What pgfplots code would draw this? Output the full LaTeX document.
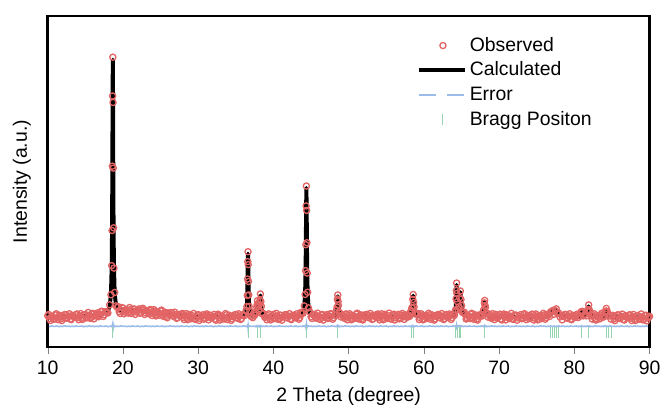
\documentclass[border=0pt]{standalone}
\usepackage{pgfplots}
\usepackage{pgfplotstable}
\pgfplotsset{compat=1.18}
\usepackage{fontspec}
\setmainfont{Liberation Sans}
\definecolor{obsred}{RGB}{226,100,100}
\definecolor{errblue}{RGB}{155,188,232}
\definecolor{bragggreen}{RGB}{150,212,175}
\newcommand{\fs}{\fontsize{9.75}{11.7}\selectfont}
\pgfplotsset{
  markleg/.style={legend image code/.code={\draw[##1] plot coordinates {(12pt,0pt)};}},
  lineleg/.style={legend image code/.code={\draw[##1] (0pt,0pt) -- (23pt,0pt);}},
  dashleg/.style={legend image code/.code={\draw[##1, dash pattern=on 8.5pt off 5.5pt] (0pt,0pt) -- (23pt,0pt);}},
}

\pgfplotstableread{
x obs calc err
10.00 31.6 30.0 21.2
10.25 28.8 30.0 20.7
10.50 30.5 30.1 21.4
10.75 28.1 30.1 20.9
11.00 32.4 30.2 21.0
11.25 29.6 30.2 21.3
11.50 31.2 30.2 20.6
11.75 28.5 30.3 21.1
12.00 30.5 30.3 20.8
12.25 32.8 30.4 21.5
12.50 29.0 30.4 20.9
12.75 31.3 30.5 21.2
13.00 28.3 30.6 20.7
13.25 32.0 30.6 21.2
13.50 30.4 30.7 20.7
13.75 32.6 30.7 21.4
14.00 29.8 30.8 20.9
14.25 31.5 30.9 21.0
14.50 29.0 31.1 21.3
14.75 32.4 31.2 20.6
15.00 32.9 31.3 21.1
15.25 30.2 31.4 20.8
15.50 32.0 31.6 21.5
15.75 29.7 31.7 20.9
16.00 34.0 31.8 21.2
16.25 31.4 32.0 20.7
16.50 33.2 32.2 21.2
16.75 30.6 32.4 20.7
17.00 32.8 32.6 21.4
17.25 35.9 33.5 20.9
17.50 32.7 34.1 21.0
17.75 35.8 35.0 21.3
18.00 34.4 36.7 20.6
18.23 42.6 41.2 21.1
18.40 52.7 53.0 20.8
18.50 82.0 80.1 21.5
18.55 117.3 118.3 21.5
18.59 182.0 181.4 22.0
18.62 252.5 249.7 23.0
18.65 291.5 289.0 18.5
18.68 246.0 249.8 24.0
18.71 180.0 181.5 20.0
18.75 120.0 118.6 21.8
18.80 79.5 80.4 20.6
18.90 55.0 53.5 21.3
19.07 41.5 42.4 20.8
19.25 40.0 39.0 21.1
19.50 35.7 37.5 20.8
19.75 37.2 37.0 21.5
20.00 39.3 36.9 20.9
20.25 35.4 36.8 21.2
20.50 37.5 36.7 20.7
20.75 34.3 36.6 21.2
21.00 37.9 36.5 20.7
21.25 36.2 36.5 21.4
21.50 38.4 36.5 20.9
21.75 35.4 36.4 21.0
22.00 37.0 36.4 21.3
22.25 34.1 36.2 20.6
22.50 37.3 36.1 21.1
22.75 37.5 35.9 20.8
23.00 34.6 35.8 21.5
23.25 36.0 35.6 20.9
23.50 33.4 35.4 21.2
23.75 37.4 35.2 20.7
24.00 34.4 35.0 21.2
24.25 35.8 34.8 20.7
24.50 32.7 34.5 21.4
24.75 34.5 34.3 20.9
25.00 36.4 34.0 21.0
25.25 32.4 33.8 21.3
25.50 34.3 33.5 20.6
25.75 31.0 33.3 21.1
26.00 34.4 33.0 20.8
26.25 32.5 32.8 21.5
26.50 34.4 32.5 20.9
26.75 31.3 32.3 21.2
27.00 32.6 32.0 20.7
27.25 29.7 31.8 21.2
27.50 32.8 31.6 20.7
27.75 33.0 31.4 21.4
28.00 30.0 31.2 20.9
28.25 31.5 31.1 21.0
28.50 28.9 30.9 21.3
28.75 33.0 30.8 20.6
29.00 30.0 30.6 21.1
29.25 31.6 30.6 20.8
29.50 28.7 30.5 21.5
29.75 30.7 30.5 20.9
30.00 32.8 30.4 21.2
30.25 29.0 30.4 20.7
30.50 31.2 30.4 21.2
30.75 28.1 30.4 20.7
31.00 31.8 30.4 21.4
31.25 30.1 30.4 20.9
31.50 32.3 30.4 21.0
31.75 29.4 30.4 21.3
32.00 31.0 30.4 20.6
32.25 28.3 30.4 21.1
32.50 31.6 30.4 20.8
32.75 32.0 30.4 21.5
33.00 29.2 30.4 20.9
33.25 30.8 30.4 21.2
33.50 28.4 30.4 20.7
33.75 32.6 30.4 21.2
34.00 29.8 30.4 20.7
34.25 31.4 30.4 21.4
34.50 28.6 30.4 20.9
34.75 30.6 30.4 21.0
35.00 32.9 30.5 21.3
35.25 29.1 30.5 20.6
35.50 31.3 30.5 21.1
35.75 28.7 31.0 20.8
36.00 32.7 31.3 21.5
36.20 31.9 32.2 20.9
36.37 37.0 35.1 21.2
36.47 40.9 41.9 20.7
36.52 52.0 51.4 21.5
36.56 68.5 67.1 21.8
36.59 86.0 84.2 22.3
36.62 96.0 94.0 20.0
36.65 83.0 84.2 22.0
36.68 66.0 67.1 20.6
36.72 52.5 51.4 21.4
36.77 41.0 41.9 20.8
36.87 36.5 35.1 21.3
37.04 30.8 32.2 20.9
37.25 29.7 31.5 20.9
37.50 32.0 31.8 21.2
37.60 35.0 33.1 20.7
37.70 34.2 35.4 21.2
37.78 40.5 39.1 20.7
37.84 43.0 43.9 21.4
37.88 46.8 45.5 20.9
37.93 42.5 43.6 21.0
38.00 41.0 39.6 21.3
38.08 37.5 38.7 20.6
38.15 43.0 41.8 21.1
38.21 47.0 47.7 20.8
38.27 53.5 52.0 21.5
38.33 46.0 47.1 20.9
38.40 41.0 39.7 21.2
38.50 33.5 34.7 20.7
38.65 34.0 32.4 21.2
38.85 30.0 31.2 20.7
39.00 30.4 31.0 21.4
39.25 31.8 30.8 20.9
39.50 28.8 30.6 21.0
39.75 30.8 30.6 21.3
40.00 33.0 30.6 20.6
40.25 29.2 30.6 21.1
40.50 31.4 30.6 20.8
40.75 28.3 30.6 21.5
41.00 32.0 30.6 20.9
41.25 30.3 30.6 21.2
41.50 32.5 30.6 20.7
41.75 29.6 30.6 21.2
42.00 31.2 30.6 20.7
42.25 28.5 30.6 21.4
42.50 31.8 30.6 20.9
42.75 32.2 30.6 21.0
43.00 29.4 30.6 21.3
43.25 31.6 31.2 20.6
43.50 29.7 31.7 21.1
43.75 34.8 32.6 20.8
43.93 34.0 34.6 21.5
44.10 41.5 40.4 20.9
44.21 53.0 54.0 21.3
44.27 77.0 75.4 21.9
44.31 103.0 103.9 20.4
44.345 142.0 139.3 22.8
44.38 162.0 160.1 19.6
44.415 137.5 139.3 22.5
44.45 105.0 103.9 20.3
44.49 74.5 75.4 21.6
44.55 55.2 54.0 20.8
44.66 39.5 40.4 21.3
44.83 35.5 34.6 20.9
45.00 30.6 32.7 21.2
45.25 32.9 31.7 20.7
45.50 32.9 31.3 21.2
45.75 29.8 31.0 20.7
46.00 31.1 30.7 21.4
46.25 28.7 30.7 20.9
46.50 32.9 30.7 21.0
46.75 30.1 30.7 21.3
47.00 31.7 30.7 20.6
47.25 28.9 30.7 21.1
47.50 30.9 30.7 20.8
47.75 33.1 30.7 21.5
48.00 29.8 31.2 20.9
48.15 32.5 31.7 21.2
48.30 31.8 33.1 20.7
48.40 37.5 36.1 21.2
48.46 40.2 41.0 20.7
48.505 48.4 47.1 21.4
48.55 52.5 51.2 20.6
48.595 46.0 47.1 21.5
48.64 42.0 41.0 21.0
48.70 35.2 36.1 21.3
48.80 34.5 33.1 20.6
49.00 30.3 31.5 21.1
49.25 31.4 31.0 20.8
49.50 28.8 30.8 21.5
49.75 33.0 30.8 20.9
50.00 30.2 30.8 21.2
50.25 31.8 30.8 20.7
50.50 29.0 30.8 21.2
50.75 31.0 30.8 20.7
51.00 33.2 30.8 21.4
51.25 29.4 30.8 20.9
51.50 31.6 30.8 21.0
51.75 28.5 30.8 21.3
52.00 32.2 30.8 20.6
52.25 30.5 30.8 21.1
52.50 32.7 30.8 20.8
52.75 29.8 30.8 21.5
53.00 31.4 30.8 20.9
53.25 28.7 30.8 21.2
53.50 32.0 30.8 20.7
53.75 32.4 30.8 21.2
54.00 29.6 30.8 20.7
54.25 31.2 30.8 21.4
54.50 28.8 30.8 20.9
54.75 33.0 30.8 21.0
55.00 30.2 30.8 21.3
55.25 31.8 30.8 20.6
55.50 29.0 30.8 21.1
55.75 31.0 30.8 20.8
56.00 33.2 30.8 21.5
56.25 29.4 30.8 20.9
56.50 31.6 30.8 21.2
56.75 28.5 30.8 20.7
57.00 32.2 30.8 21.2
57.25 30.5 30.8 20.7
57.50 32.7 30.8 21.4
57.75 29.9 30.9 20.9
58.00 32.2 31.6 21.0
58.10 31.0 32.2 21.3
58.25 36.0 34.8 20.6
58.33 36.8 37.5 21.1
58.40 39.5 38.2 20.8
58.46 39.8 40.6 21.5
58.52 48.0 46.7 20.9
58.58 53.0 51.8 21.4
58.64 45.0 46.2 20.7
58.70 40.5 39.4 21.2
58.80 33.5 34.4 20.7
58.95 33.5 32.1 21.4
59.25 33.6 31.2 20.9
59.50 29.5 30.9 21.0
59.75 31.6 30.8 21.3
60.00 28.4 30.7 20.6
60.25 32.1 30.7 21.1
60.50 30.4 30.7 20.8
60.75 32.6 30.7 21.5
61.00 29.7 30.7 20.9
61.25 31.3 30.7 21.2
61.50 28.6 30.7 20.7
61.75 31.9 30.7 21.2
62.00 32.3 30.7 20.7
62.25 29.5 30.7 21.4
62.50 31.1 30.7 20.9
62.75 28.7 30.7 21.0
63.00 32.9 30.7 21.3
63.25 30.1 30.7 20.6
63.50 31.9 30.9 21.1
63.75 29.7 31.5 20.8
63.90 32.5 31.9 21.5
64.05 32.0 33.0 20.9
64.15 36.0 34.9 21.2
64.22 37.6 38.5 20.7
64.28 48.5 47.1 21.6
64.32 57.0 57.7 20.5
64.35 64.5 62.5 22.0
64.39 54.0 55.3 20.3
64.44 45.8 44.5 21.5
64.52 38.0 38.7 20.8
64.60 40.0 38.6 21.3
64.68 40.8 41.7 20.7
64.76 49.8 48.5 21.4
64.85 56.5 55.3 20.6
64.93 48.0 49.2 21.5
65.02 41.8 40.7 20.9
65.12 35.0 36.0 21.2
65.25 34.6 33.4 20.7
65.50 32.8 31.8 21.2
65.75 29.4 31.2 20.7
66.00 31.1 30.9 21.4
66.25 33.1 30.7 20.9
66.50 29.3 30.7 21.0
66.75 31.5 30.7 21.3
67.00 28.4 30.7 20.6
67.25 32.2 30.8 21.1
67.50 30.8 31.1 20.8
67.63 33.0 31.5 21.5
67.80 31.6 32.6 20.9
67.91 36.5 35.1 21.2
67.98 38.0 38.9 20.7
68.03 44.5 43.2 21.4
68.08 47.0 45.8 20.6
68.13 42.0 43.2 21.5
68.18 40.0 38.9 21.0
68.25 34.2 35.1 21.3
68.36 34.0 32.6 20.6
68.53 30.2 31.5 21.1
68.75 32.0 31.0 20.8
69.00 28.9 30.7 21.5
69.25 30.8 30.6 20.9
69.50 33.0 30.6 21.2
69.75 29.2 30.6 20.7
70.00 31.4 30.6 21.2
70.25 28.3 30.6 20.7
70.50 32.0 30.6 21.4
70.75 30.3 30.6 20.9
71.00 32.5 30.6 21.0
71.25 29.6 30.6 21.3
71.50 31.2 30.6 20.6
71.75 28.5 30.6 21.1
72.00 31.8 30.6 20.8
72.25 32.2 30.6 21.5
72.50 29.4 30.6 20.9
72.75 31.0 30.6 21.2
73.00 28.6 30.6 20.7
73.25 32.8 30.6 21.2
73.50 29.9 30.5 20.7
73.75 31.5 30.5 21.4
74.00 28.7 30.5 20.9
74.25 30.7 30.5 21.0
74.50 32.9 30.5 21.3
74.75 29.1 30.5 20.6
75.00 31.3 30.5 21.1
75.25 28.2 30.5 20.8
75.50 31.9 30.5 21.5
75.75 30.2 30.5 20.9
76.00 32.4 30.5 21.2
76.25 29.9 30.9 20.7
76.50 32.1 31.5 21.2
76.70 30.8 32.5 20.7
76.85 35.6 34.4 21.4
77.00 35.5 36.7 20.9
77.15 37.0 35.1 21.0
77.30 33.0 34.2 21.3
77.45 36.8 35.6 20.6
77.60 38.6 37.6 21.1
77.75 33.8 35.1 20.8
77.90 34.5 32.8 21.5
78.10 30.4 31.6 20.9
78.50 31.0 30.8 21.2
78.75 33.0 30.6 20.7
79.00 29.1 30.5 21.2
79.25 31.3 30.5 20.7
79.50 28.2 30.5 21.4
79.75 31.9 30.5 20.9
80.00 30.1 30.4 21.0
80.25 32.4 30.5 21.3
80.50 29.8 30.8 20.6
80.60 31.7 31.1 21.1
80.80 31.2 32.4 20.8
80.92 35.8 34.6 21.5
81.00 34.5 35.7 20.9
81.08 36.0 34.7 21.2
81.20 31.5 32.7 20.7
81.40 33.2 31.9 21.2
81.60 31.5 32.8 20.7
81.72 36.2 34.9 21.4
81.82 37.8 38.8 20.9
81.90 42.5 41.0 21.0
81.98 37.5 38.7 21.3
82.08 36.0 34.8 20.6
82.20 31.4 32.5 21.1
82.50 31.8 31.0 20.8
82.75 28.3 30.6 21.5
83.00 31.8 30.4 20.9
83.25 30.1 30.4 21.2
83.50 32.4 30.5 20.7
83.75 29.9 30.9 21.2
83.85 31.8 31.2 20.7
84.00 30.9 32.3 21.4
84.12 35.8 34.6 20.9
84.20 36.2 37.05 21.0
84.25 39.0 37.8 21.3
84.30 36.0 37.05 20.6
84.38 35.8 34.6 21.1
84.50 31.2 32.3 20.8
84.70 32.4 31.05 21.5
85.00 31.6 30.6 20.9
85.25 28.4 30.2 21.2
85.50 30.4 30.2 20.7
85.75 32.6 30.2 21.2
86.00 28.8 30.2 20.7
86.25 31.0 30.2 21.4
86.50 27.9 30.2 20.9
86.75 31.6 30.2 21.0
87.00 29.8 30.1 21.3
87.25 32.0 30.1 20.6
87.50 29.1 30.1 21.1
87.75 30.7 30.1 20.8
88.00 28.0 30.1 21.5
88.25 31.2 30.0 20.9
88.50 31.6 30.0 21.2
88.75 28.8 30.0 20.7
89.00 30.4 30.0 21.2
89.25 28.0 30.0 20.7
89.50 32.2 30.0 21.4
89.75 29.4 30.0 20.9
90.00 31.0 30.0 21.0
}\xrd

\pgfplotstableread{
x obs
10.125 32.9
10.375 26.9
10.625 31.0
10.875 28.3
11.125 33.6
11.375 27.6
11.625 32.0
11.875 26.8
12.125 30.7
12.375 32.6
12.625 29.4
12.875 33.6
13.125 27.7
13.375 31.8
13.625 30.2
13.875 33.4
14.125 27.6
14.375 33.8
14.625 27.9
14.875 32.1
15.125 29.4
15.375 34.9
15.625 29.0
15.875 33.4
16.125 28.4
16.375 32.4
16.625 34.5
16.875 31.4
17.125 36.1
17.375 30.9
17.625 35.7
17.875 35.2
19.375 40.8
19.625 33.9
19.875 39.8
20.125 33.6
20.375 37.6
20.625 34.7
20.875 39.9
21.125 33.9
21.375 38.2
21.625 33.0
21.875 36.7
22.125 38.5
22.375 35.0
22.625 39.1
22.875 32.9
23.125 36.9
23.375 35.0
23.625 37.9
23.875 31.8
24.125 37.7
24.375 31.4
24.625 35.3
24.875 32.2
25.125 37.3
25.375 31.0
25.625 35.1
25.875 29.6
26.125 33.2
26.375 34.8
26.625 31.3
26.875 35.2
27.125 29.0
27.375 32.9
27.625 31.0
27.875 33.9
28.125 27.8
28.375 33.8
28.625 27.6
28.875 31.6
29.125 28.7
29.375 33.9
29.625 27.9
29.875 32.1
30.125 26.9
30.375 30.7
30.625 32.6
30.875 29.3
31.125 33.5
31.375 27.5
31.625 31.6
31.875 29.9
32.125 33.0
32.375 27.1
32.625 33.2
32.875 27.2
33.125 31.3
33.375 28.5
33.625 33.8
33.875 27.8
34.125 32.1
34.375 26.9
34.625 30.7
34.875 32.6
35.125 29.4
35.375 33.6
35.625 27.8
35.875 32.3
37.125 31.3
37.375 34.2
39.125 27.6
39.375 33.5
39.625 27.4
39.875 31.5
40.125 28.7
40.375 34.0
40.625 28.0
40.875 32.3
41.125 27.1
41.375 30.9
41.625 32.8
41.875 29.5
42.125 33.7
42.375 27.7
42.625 31.8
42.875 30.1
43.125 33.6
43.375 28.1
43.625 34.8
45.125 28.9
45.375 32.4
45.625 29.2
45.875 34.2
46.125 28.1
46.375 32.4
46.625 27.2
46.875 31.0
47.125 32.9
47.375 29.6
47.625 33.8
47.875 28.1
49.125 32.4
49.375 30.4
49.625 33.4
49.875 27.5
50.125 33.6
50.375 27.6
50.625 31.7
50.875 28.9
51.125 34.2
51.375 28.2
51.625 32.5
51.875 27.3
52.125 31.1
52.375 33.0
52.625 29.7
52.875 33.9
53.125 27.9
53.375 32.0
53.625 30.3
53.875 33.4
54.125 27.5
54.375 33.6
54.625 27.6
54.875 31.7
55.125 28.9
55.375 34.2
55.625 28.2
55.875 32.5
56.125 27.3
56.375 31.1
56.625 33.0
56.875 29.7
57.125 33.9
57.375 27.9
57.625 32.0
57.875 30.7
59.125 34.0
59.375 27.7
59.625 33.6
59.875 27.5
60.125 31.6
60.375 28.8
60.625 34.1
60.875 28.1
61.125 32.4
61.375 27.2
61.625 31.0
61.875 32.9
62.125 29.6
62.375 33.8
62.625 27.8
62.875 31.9
63.125 30.2
63.375 33.4
63.625 27.9
65.375 35.1
65.625 28.3
65.875 31.9
66.125 28.8
66.375 34.1
66.625 28.1
66.875 32.4
67.125 27.2
67.375 31.2
68.625 33.4
68.875 29.7
69.125 33.7
69.375 27.7
69.625 31.8
69.875 30.1
70.125 33.2
70.375 27.3
70.625 33.4
70.875 27.4
71.125 31.5
71.375 28.7
71.625 34.0
71.875 28.0
72.125 32.3
72.375 27.1
72.625 30.9
72.875 32.8
73.125 29.5
73.375 33.7
73.625 27.7
73.875 31.8
74.125 30.1
74.375 33.2
74.625 27.3
74.875 33.4
75.125 27.4
75.375 31.5
75.625 28.7
75.875 34.0
76.125 28.1
76.375 32.9
78.375 27.5
78.625 31.0
78.875 32.7
79.125 29.4
79.375 33.6
79.625 27.6
79.875 31.7
80.125 30.0
80.375 33.2
82.375 28.2
82.625 33.6
82.875 27.2
83.125 31.3
83.375 28.5
83.625 34.1
84.875 28.2
85.125 32.0
85.375 26.7
85.625 30.5
85.875 32.4
86.125 29.1
86.375 33.3
86.625 27.3
86.875 31.3
87.125 29.6
87.375 32.7
87.625 26.8
87.875 32.9
88.125 26.8
88.375 30.9
88.625 28.1
88.875 33.4
89.125 27.4
89.375 31.7
89.625 26.5
89.875 30.3
}\xrdb

\pgfplotstableread{
x y
18.64 14.5
36.62 14.5
37.90 14.5
38.27 14.5
44.38 14.5
48.55 14.5
58.35 14.5
58.58 14.5
64.20 14.5
64.40 14.5
64.70 14.5
64.90 14.5
68.10 14.5
76.80 14.5
77.05 14.5
77.30 14.5
77.60 14.5
77.90 14.5
81.00 14.5
81.85 14.5
84.25 14.5
84.60 14.5
85.00 14.5
}\bragg

\begin{document}
\begin{tikzpicture}
\begin{axis}[
  at={(0,0)}, anchor=south west,
  scale only axis, clip=false,
  width=302.5pt, height=166.5pt,
  xmin=10, xmax=90, ymin=0, ymax=333,
  xtick={10,20,...,90},
  ytick=\empty,
  xtick pos=left,
  tick align=outside,
  major tick length=3.25pt,
  axis line style={line width=0.8pt},
  /pgf/number format/assume math mode=true,
  tick label style={font=\fs},
  label style={font=\fs},
  xlabel={2 Theta (degree)},
  ylabel={Intensity (a.u.)},
  xlabel style={at={(axis description cs:0.5,-0.15)}, anchor=center},
  ylabel style={at={(axis description cs:-0.043,0.5)}, anchor=center},
  legend cell align=left,
  legend style={draw=none, fill=none, font=\fs,
    at={(0.613,0.949)}, anchor=north west, inner sep=0pt,
    nodes={text height=7.5pt, text depth=2pt, inner ysep=1.45pt, inner xsep=1.5pt}},
]
\addplot[only marks, mark=o, mark size=1.55pt, color=obsred, mark options={line width=0.65pt}, markleg]
  table[x=x, y=obs] {\xrd};
\addlegendentry{Observed}
\addplot[only marks, mark=o, mark size=1.55pt, color=obsred, mark options={line width=0.65pt}, forget plot]
  table[x=x, y=obs] {\xrdb};
\addplot[black, line width=2pt, line join=round, no marks, lineleg]
  table[x=x, y=calc] {\xrd};
\addlegendentry{Calculated}
\addplot[errblue, line width=0.8pt, no marks, dashleg]
  table[x=x, y=err] {\xrd};
\addlegendentry{Error}
\addplot[only marks, mark=|, mark size=2.75pt, color=bragggreen, mark options={line width=0.5pt}, markleg]
  table[x=x, y=y] {\bragg};
\addlegendentry{Bragg Positon}
\draw[black, line width=1.3pt] (rel axis cs:0,0) -- (rel axis cs:0,1) -- (rel axis cs:1,1) -- (rel axis cs:1,0) -- cycle;
\end{axis}
\path (current axis.south west) ++(-24pt,-29pt) rectangle ([shift={(7pt,8pt)}]current axis.north east);
\end{tikzpicture}
\end{document}
